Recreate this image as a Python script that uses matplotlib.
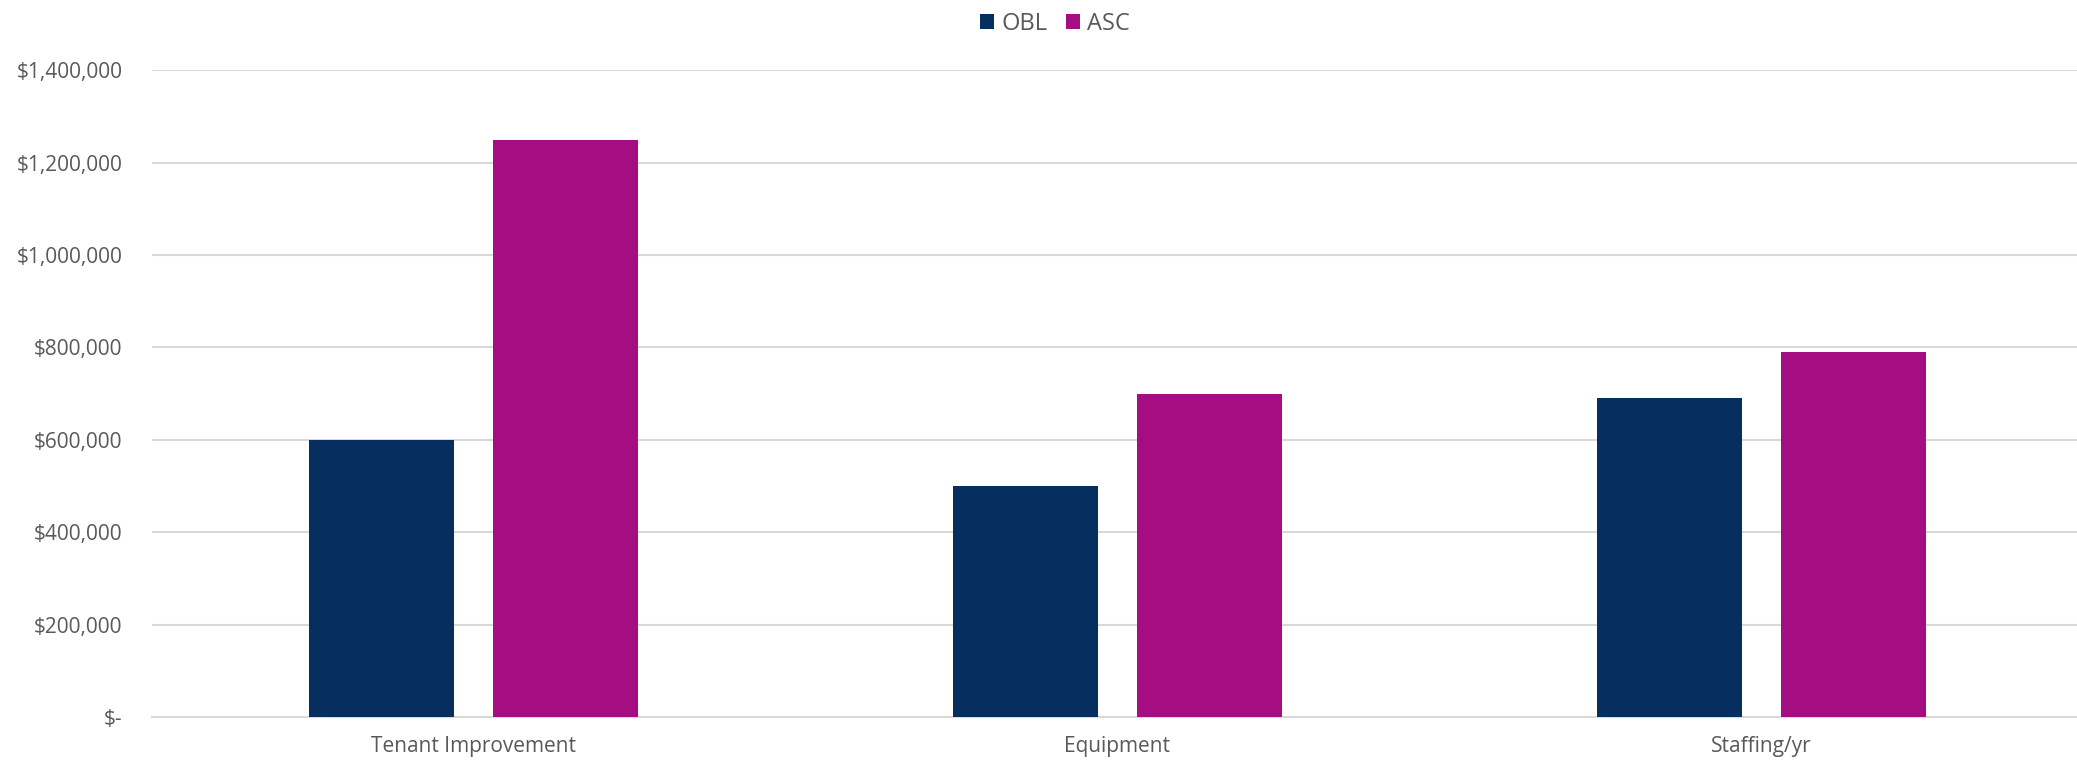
import matplotlib.pyplot as plt
import numpy as np
from matplotlib.ticker import FuncFormatter, MultipleLocator

categories = ['Tenant Improvement', 'Equipment', 'Staffing/yr']
obl = [600000, 500000, 690000]
asc = [1250000, 700000, 790000]

OBL_COLOR = '#062f5f'
ASC_COLOR = '#a50e82'
TEXT_COLOR = '#595959'
GRID_COLOR = '#d9d9d9'

plt.rcParams['font.family'] = ['Open Sans', 'DejaVu Sans']


def money(v, pos):
    if v == 0:
        return '$-'
    return f'${v:,.0f}'


fig = plt.figure(figsize=(20.77, 7.64), dpi=100)
ax = fig.add_axes([0.073, 0.0615, 0.930, 0.8465])

x = np.arange(len(categories))
width = 0.225
offset = 0.143
ax.bar(x - offset, obl, width, color=OBL_COLOR, label='OBL', zorder=3)
ax.bar(x + offset, asc, width, color=ASC_COLOR, label='ASC', zorder=3)

ax.set_xlim(-0.5, len(categories) - 0.5)
ax.set_ylim(0, 1400000)
ax.yaxis.set_major_locator(MultipleLocator(200000))
ax.yaxis.set_major_formatter(FuncFormatter(money))
ax.set_xticks(x)
ax.set_xticklabels(categories)

ax.grid(axis='y', color=GRID_COLOR, linewidth=1.5, zorder=0)
for side in ['top', 'right', 'left']:
    ax.spines[side].set_visible(False)
ax.spines['bottom'].set_color(GRID_COLOR)
ax.spines['bottom'].set_linewidth(1.5)
ax.tick_params(axis='both', length=0, colors=TEXT_COLOR, labelsize=15)
ax.tick_params(axis='y', pad=21)
ax.tick_params(axis='x', pad=14)

fig.legend(loc='upper center', bbox_to_anchor=(0.508, 1.0), ncol=2, frameon=False,
           fontsize=17, labelcolor=TEXT_COLOR, handlelength=0.6, handleheight=0.6,
           handletextpad=0.3, columnspacing=0.8, borderaxespad=0.1)

fig.savefig('out.png', dpi=100)
